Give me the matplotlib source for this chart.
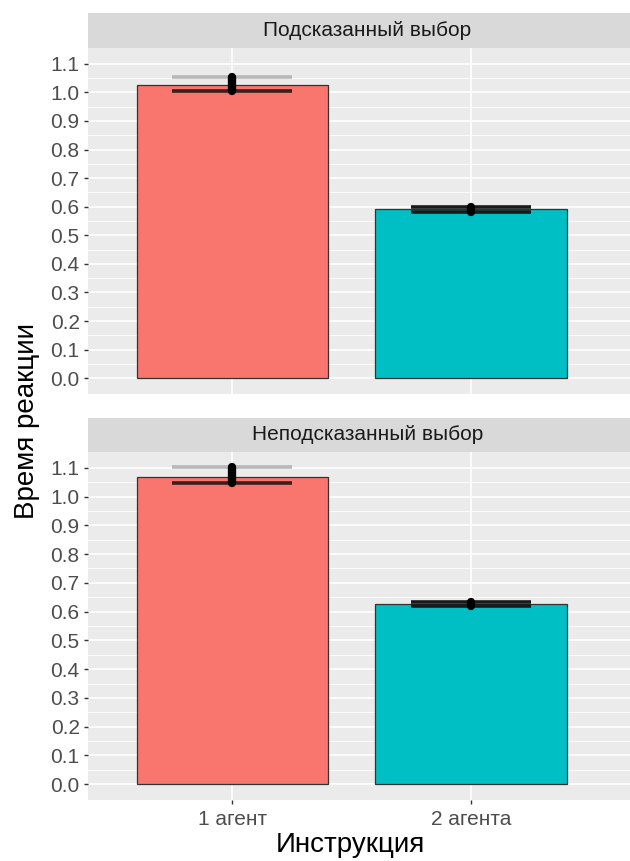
import numpy as np
import matplotlib
matplotlib.use('Agg')
import matplotlib.pyplot as plt

plt.rcParams['font.family'] = ['Liberation Sans', 'DejaVu Sans']

# Data: mean reaction time per instruction, with lower/upper interval bounds
conditions = ['1 агент', '2 агента']
facets = ['Подсказанный выбор', 'Неподсказанный выбор']
means = [[1.027, 0.592],
         [1.069, 0.627]]
lower = [[1.006, 0.581],
         [1.046, 0.621]]
upper = [[1.055, 0.600],
         [1.102, 0.633]]
yticks = [0.0, 0.1, 0.2, 0.3, 0.4, 0.5, 0.6, 0.7, 0.8, 0.9, 1.0, 1.1]

fill = ['#F8766D', '#00BFC4']
W, H = 630, 861

fig = plt.figure(figsize=(W / 100, H / 100), dpi=100)

# ----------------------------------------------------------------------
def px(left, top, right, bottom):
    ''' pixel box -> figure fraction rect '''
    return [left / W, 1 - bottom / H, (right - left) / W, (bottom - top) / H]

panels = [(48, 394), (452, 800)]
strips = [(13, 48), (418, 452)]

xpos = np.arange(1, len(conditions) + 1)

for k, name in enumerate(facets):
    # Strip with facet title
    sax = fig.add_axes(px(88, strips[k][0], 630, strips[k][1]))
    sax.set_facecolor('#D9D9D9')
    sax.set_xticks([]); sax.set_yticks([])
    for s in sax.spines.values():
        s.set_visible(False)
    sax.text(0.515, 0.5, name, ha='center', va='center', fontsize=15,
             color='#1A1A1A', transform=sax.transAxes)

    # Panel
    ax = fig.add_axes(px(88, panels[k][0], 630, panels[k][1]))
    ax.set_facecolor('#EBEBEB')
    for s in ax.spines.values():
        s.set_visible(False)
    ax.set_xlim(0.397, 2.665)
    ax.set_ylim(-0.055, 1.155)

    # Grid: minor first, then major
    for y in np.arange(0.05, 1.15, 0.1):
        ax.axhline(y, color='white', lw=0.6, zorder=0)
    for y in yticks:
        ax.axhline(y, color='white', lw=1.2, zorder=0)
    for x in xpos:
        ax.axvline(x, color='white', lw=1.2, zorder=0)

    ax.bar(xpos, means[k], width=0.8, color=fill, edgecolor='#333333',
           linewidth=0.9, zorder=2)

    # Error bars: caps and thick vertical range
    for i, x in enumerate(xpos):
        lo, hi, m = lower[k][i], upper[k][i], means[k][i]
        for v in (lo, hi):
            c = '#3A1E1C' if v <= m + 0.008 else '#B8B8B8'
            if v <= m + 0.008 and i == 1:
                c = '#1A1A1A'
            ax.hlines(v, x - 0.25, x + 0.25, color=c, lw=2.6, zorder=3)
        ax.vlines(x, lo, hi, color='black', lw=6, zorder=4,
                  capstyle='round')

    ax.set_yticks(yticks)
    ax.set_yticklabels(['%.1f' % t for t in yticks])
    ax.tick_params(axis='y', length=3, width=1, color='#333333',
                   labelcolor='#4D4D4D', labelsize=15, pad=3)
    ax.set_xticks(xpos)
    if k == 1:
        ax.set_xticklabels(conditions)
        ax.tick_params(axis='x', length=3, width=1, color='#333333',
                       labelcolor='#4D4D4D', labelsize=15, pad=4)
    else:
        ax.tick_params(axis='x', length=0, labelbottom=False)

fig.text(350 / W, 1 - 845 / H, 'Инструкция', ha='center', va='center',
         fontsize=20, color='black')
fig.text(27 / W, 1 - 421 / H, 'Время реакции', ha='center', va='center',
         rotation=90, fontsize=20, color='black')

fig.savefig('out.png', dpi=100)
